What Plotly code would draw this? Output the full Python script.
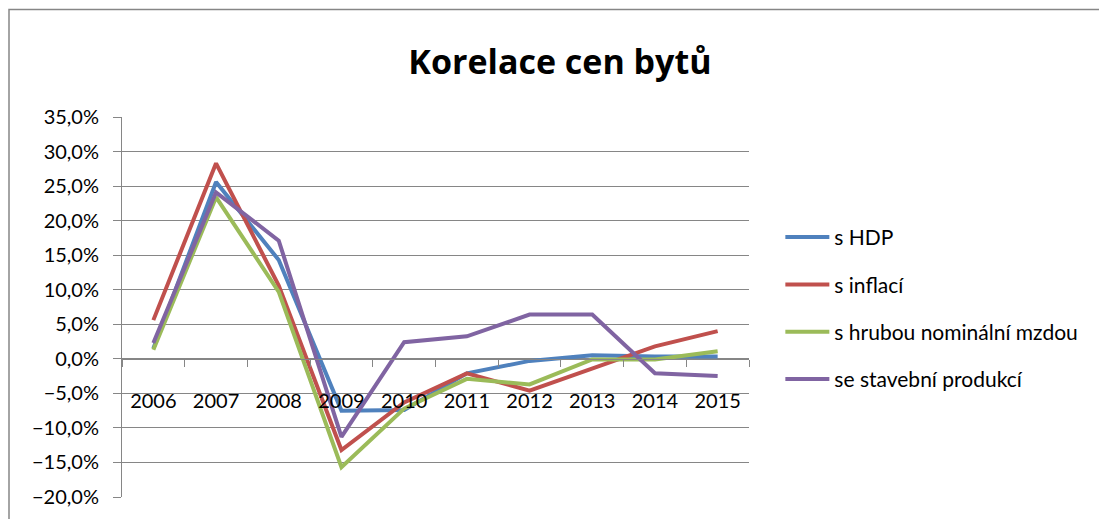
import plotly.graph_objects as go

roky = ["2006", "2007", "2008", "2009", "2010", "2011", "2012", "2013", "2014", "2015"]

s_hdp = [1.5, 25.6, 14.3, -7.5, -7.4, -2.1, -0.3, 0.5, 0.35, 0.35]
s_inflaci = [5.6, 28.3, 10.6, -13.2, -6.3, -2.1, -4.6, -1.4, 1.8, 4.0]
s_mzdou = [1.3, 23.4, 9.7, -15.7, -7.2, -2.9, -3.7, -0.1, -0.1, 1.1]
s_produkci = [2.3, 24.1, 17.1, -11.3, 2.4, 3.25, 6.4, 6.4, -2.1, -2.5]

nazvy = ["s HDP", "s inflací", "s hrubou nominální mzdou", "se stavební produkcí"]
barvy = ["#4F81BD", "#C0504D", "#9BBB59", "#8064A2"]

y_min, y_max = -0.20, 0.35
font = "Lato"
seda = "#868686"

fig = go.Figure()
for i, (nazev, hodnoty) in enumerate(zip(nazvy, [s_hdp, s_inflaci, s_mzdou, s_produkci])):
    fig.add_trace(go.Scatter(
        x=roky, y=[v / 100 for v in hodnoty], mode="lines", name=nazev,
        legendgroup=str(i), line=dict(color=barvy[i], width=4),
    ))

# pozice osy x na nule
pozice_nuly = (0 - y_min) / (y_max - y_min)

fig.update_layout(
    width=1107, height=519,
    margin=dict(l=114, r=366, t=109, b=30),
    paper_bgcolor="white", plot_bgcolor="white",
    separators=", ",
    font=dict(family=font, size=20, color="#000000"),
    title=dict(text="<b>Korelace cen bytů</b>", font=dict(family="Open Sans", size=34, color="#000000"),
               x=0.4986, xanchor="center", y=1 - 54 / 519, yanchor="middle", yref="container"),
    xaxis=dict(type="category", range=[-0.5, len(roky) - 0.5], anchor="free", position=pozice_nuly,
               showline=True, linecolor=seda, linewidth=1, ticks="outside", tickson="boundaries",
               ticklen=7, tickcolor=seda, showgrid=False, ticklabelstandoff=24,
               tickfont=dict(size=20), automargin=False),
    yaxis=dict(range=[y_min, y_max], dtick=0.05, tickformat=".1%", showline=True, linecolor=seda,
               linewidth=1, ticks="outside", ticklen=8, tickcolor=seda, showgrid=True, gridcolor=seda,
               gridwidth=1, zeroline=False, ticklabelstandoff=10, tickfont=dict(size=20),
               automargin=False),
    legend=dict(x=1.050, y=0.737, xanchor="left", yanchor="top", traceorder="grouped", tracegroupgap=17,
                itemwidth=44, font=dict(size=21), bgcolor="rgba(0,0,0,0)"),
    showlegend=True,
)

# rámeček grafu
fig.add_shape(type="rect", xref="paper", yref="paper", x0=(1 - 114) / 627, x1=2, y0=-1, y1=(489 - 1.5) / 380,
              line=dict(color=seda, width=1.5), layer="below")

fig.write_html("out.html")
